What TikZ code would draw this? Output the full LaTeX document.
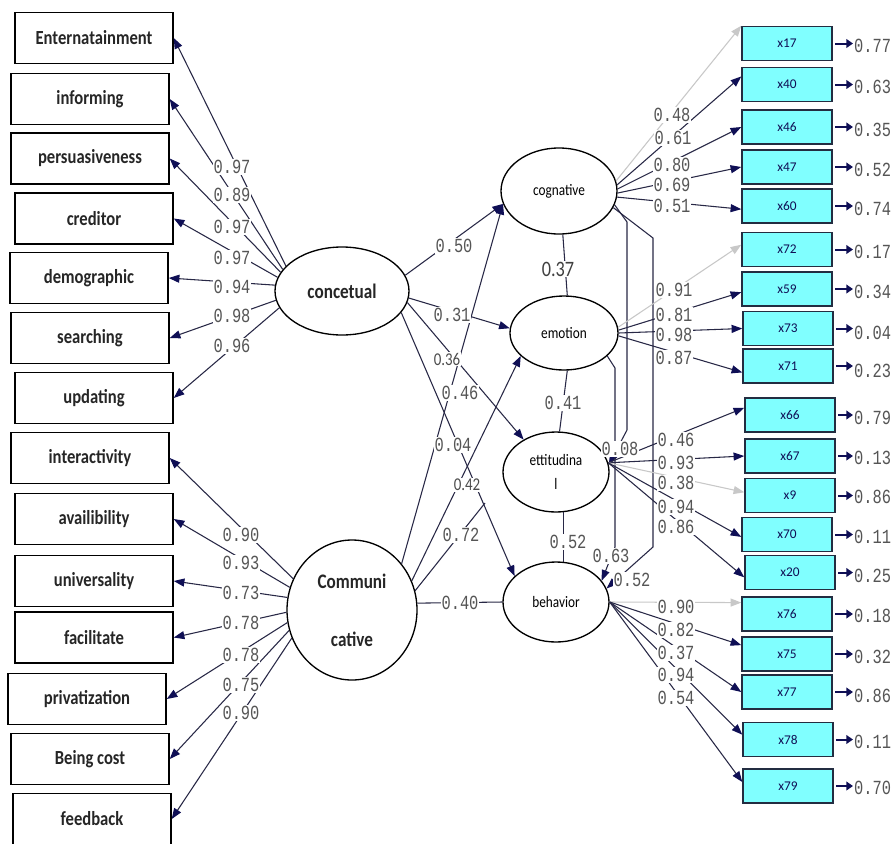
\documentclass[tikz,border=0pt]{standalone}
\usepackage{fontspec}
\setmainfont{Carlito}
\newfontfamily\sx[FakeStretch=0.83]{Carlito}
\newfontfamily\mx[FakeStretch=0.77]{Liberation Mono}
\usetikzlibrary{shapes.geometric,arrows.meta}
\definecolor{navy}{RGB}{15,15,85}
\definecolor{lnc}{RGB}{40,40,70}
\definecolor{labc}{RGB}{85,85,85}
\definecolor{cyanb}{RGB}{128,255,255}
\definecolor{boxb}{RGB}{35,45,65}
\definecolor{greyl}{RGB}{200,200,200}
\begin{document}
\begin{tikzpicture}[x=0.75pt,y=-0.75pt,
 lbox/.style={draw=black,line width=1.1pt,minimum width=118.5pt,minimum height=38.25pt,inner sep=0pt,font=\sx\bfseries\fontsize{15}{18}\selectfont,text=black!85},
 bigl/.style={ellipse,draw=black,line width=1pt,inner sep=0pt,align=center,font=\sx\bfseries\fontsize{15.5}{18.6}\selectfont,text=black!85},
 smll/.style={ellipse,draw=black,line width=1pt,inner sep=0pt,align=center,font=\sx\fontsize{12}{14.4}\selectfont},
 rbox/.style={draw=boxb,fill=cyanb,line width=1.1pt,minimum width=67.5pt,minimum height=25.5pt,inner sep=0pt,font=\fontsize{10}{12}\selectfont,text=navy},
 ln/.style={draw=lnc,line width=0.8pt},
 arr/.style={ln,-{Triangle[length=8pt,width=6pt,color=navy]}},
 garr/.style={draw=greyl,line width=0.8pt,-{Triangle[length=8pt,width=6pt,color=greyl]}},
 errarr/.style={draw=navy,line width=1.5pt,-{Triangle[length=5pt,width=6.5pt,color=navy]}},
 ml/.style={font=\mx\fontsize{15}{15}\selectfont,text=labc,fill=white,inner sep=0.6pt},
 el/.style={ml,anchor=west,fill=none},
 sl/.style={font=\sx\fontsize{13.5}{14}\selectfont,text=black!70,fill=white,inner sep=0.6pt},
 slb/.style={font=\sx\fontsize{16.5}{17}\selectfont,text=black!75,fill=white,inner sep=0.6pt},
]
\fill[white] (0,0) rectangle (892,843);
\useasboundingbox (0,0) rectangle (892,843);

% left observed
\node[lbox] (ent) at (94,38) {Enternatainment};
\node[lbox] (inf) at (90,99) {informing};
\node[lbox] (pers) at (90,158.5) {persuasiveness};
\node[lbox] (cred) at (94,218.5) {creditor};
\node[lbox] (demo) at (89,278) {demographic};
\node[lbox] (srch) at (90,338) {searching};
\node[lbox] (upd) at (94,398) {updating};
\node[lbox] (intr) at (90,458) {interactivity};
\node[lbox] (avl) at (94,519) {availibility};
\node[lbox] (univ) at (94,581) {universality};
\node[lbox] (fac) at (94,637.5) {facilitate};
\node[lbox] (priv) at (87,699) {privatization};
\node[lbox] (cost) at (90,759) {Being cost};
\node[lbox] (feed) at (92,819) {feedback};

% latent
\node[bigl,minimum width=100.5pt,minimum height=66pt] (conc) at (342,291) {concetual};
\node[bigl,minimum width=97.5pt,minimum height=105pt] (comm) at (352,610) {Communi\\[25pt]cative};
\node[smll,minimum width=87pt,minimum height=64.5pt] (cog) at (559,191) {cognative};
\node[smll,minimum width=81pt,minimum height=55.5pt] (emo) at (564,333) {emotion};
\node[smll,minimum width=79.5pt,minimum height=60pt] (att) at (556,472) {ettitudina\\[3pt]l};
\node[smll,minimum width=79.5pt,minimum height=60pt] (beh) at (556,602) {behavior};

% right observed
\node[rbox] (x17) at (787,43.5) {x17};
\node[rbox] (x40) at (787,84.5) {x40};
\node[rbox] (x46) at (787,127) {x46};
\node[rbox] (x47) at (787,167) {x47};
\node[rbox] (x60) at (787,206) {x60};
\node[rbox] (x72) at (787,249.5) {x72};
\node[rbox] (x59) at (787,289) {x59};
\node[rbox] (x73) at (788,328.5) {x73};
\node[rbox] (x71) at (788,366) {x71};
\node[rbox] (x66) at (790,415) {x66};
\node[rbox] (x67) at (790,456) {x67};
\node[rbox] (x9) at (790,495.5) {x9};
\node[rbox] (x70) at (787,534.5) {x70};
\node[rbox] (x20) at (790,572.5) {x20};
\node[rbox] (x76) at (787,614) {x76};
\node[rbox] (x75) at (787,654) {x75};
\node[rbox] (x77) at (787,692) {x77};
\node[rbox] (x78) at (788,739.5) {x78};
\node[rbox] (x79) at (788,786) {x79};

% error terms
\node[el] (e17) at (853,46) {0.77};
\node[el] (e40) at (853,87) {0.63};
\node[el] (e46) at (853,130) {0.35};
\node[el] (e47) at (853,170) {0.52};
\node[el] (e60) at (853,209) {0.74};
\node[el] (e72) at (853,252) {0.17};
\node[el] (e59) at (853,292) {0.34};
\node[el] (e73) at (853,333) {0.04};
\node[el] (e71) at (853,371) {0.23};
\node[el] (e66) at (853,418) {0.79};
\node[el] (e67) at (853,458) {0.13};
\node[el] (e9) at (853,497) {0.86};
\node[el] (e70) at (853,537) {0.11};
\node[el] (e20) at (853,576) {0.25};
\node[el] (e76) at (853,616) {0.18};
\node[el] (e75) at (853,657) {0.32};
\node[el] (e77) at (853,696) {0.86};
\node[el] (e78) at (853,742) {0.11};
\node[el] (e79) at (853,788) {0.70};
\foreach \b/\e in {x17/e17,x40/e40,x46/e46,x47/e47,x60/e60,x72/e72,x59/e59,x73/e73,x71/e71,x66/e66,x67/e67,x9/e9,x70/e70,x20/e20,x76/e76,x75/e75,x77/e77,x78/e78,x79/e79}
  \draw[errarr] ([xshift=2pt]\b.east) -- (\b.east -| \e.west);

% bend points
\coordinate (k72) at (485,503);
\coordinate (b1) at (627,222);
\coordinate (b2) at (627,430);
\coordinate (b3) at (615,368);
\coordinate (b4) at (615,547);
\coordinate (b5) at (653,238);
\coordinate (b6) at (653,547);

% left loadings
\draw[arr] (conc.156) -- (ent.east);
\draw[arr] (conc.160) -- (inf.east);
\draw[arr] (conc.163) -- (pers.east);
\draw[arr] (conc.168) -- (cred.east);
\draw[arr] (conc.175) -- (demo.east);
\draw[arr] (conc.188) -- (srch.east);
\draw[arr] (conc.195) -- (upd.east);
\draw[arr] (comm.152) -- (intr.east);
\draw[arr] (comm.160) -- (avl.east);
\draw[arr] (comm.169) -- (univ.east);
\draw[arr] (comm.182) -- (fac.east);
\draw[arr] (comm.191) -- (priv.east);
\draw[arr] (comm.198) -- (cost.east);
\draw[arr] (comm.205) -- (feed.east);

% structural
\draw[arr] (conc.14) -- (cog.193);
\draw[arr] (conc.-6) -- (emo.175);
\draw[arr] (conc.-10) -- (att.135);
\draw[arr] (conc.-20) -- (beh.148);
\draw[arr] (comm.43) -- (cog.193);
\draw[arr] (comm.26) -- (emo.208);
\draw[ln] (comm.17) -- (k72);
\draw[ln] (comm.6) -- (beh.180);
\draw[ln] (cog.-85) -- (emo.85);
\draw[ln] (emo.-85) -- (att.85);
\draw[ln] (att.-80) -- (beh.80);
\draw[arr] (cog.-14) -- (b1) -- (b2) -- (att.8);
\draw[arr] (emo.-28) -- (b3) -- (b4) -- (beh.25);
\draw[arr] (cog.-17) -- (b5) -- (b6) -- (beh.15);

% right loadings
\draw[garr] (cog.10) -- (x17.north west);
\draw[arr] (cog.6) -- (x40.170);
\draw[arr] (cog.2) -- (x46.west);
\draw[arr] (cog.-2) -- (x47.west);
\draw[arr] (cog.-6) -- (x60.184);
\draw[garr] (emo.6) -- (x72.174);
\draw[arr] (emo.3) -- (x59.184);
\draw[arr] (emo.0) -- (x73.west);
\draw[arr] (emo.-3) -- (x71.188);
\draw[arr] (att.10) -- (x66.171);
\draw[arr] (att.10) -- (x67.west);
\draw[garr] (att.10) -- (x9.176);
\draw[arr] (att.10) -- (x70.183);
\draw[arr] (att.10) -- (x20.186);
\draw[garr] (beh.0) -- (x76.166);
\draw[arr] (beh.0) -- (x75.169);
\draw[arr] (beh.0) -- (x77.west);
\draw[arr] (beh.0) -- (x78.174);
\draw[arr] (beh.0) -- (x79.175);

% labels left
\node[ml] (l1) at (232,167) {0.97};
\node[ml] (l2) at (232,195) {0.89};
\node[ml] (l3) at (232,227) {0.97};
\node[ml] (l4) at (232,258) {0.97};
\node[ml] (l5) at (232,287) {0.94};
\node[ml] (l6) at (232,316) {0.98};
\node[ml] (l7) at (232,346) {0.96};
\node[ml] (m1) at (241,535) {0.90};
\node[ml] (m2) at (241,563) {0.93};
\node[ml] (m3) at (241,593) {0.73};
\node[ml] (m4) at (241,623) {0.78};
\node[ml] (m5) at (241,655) {0.78};
\node[ml] (m6) at (241,685) {0.75};
\node[ml] (m7) at (241,713) {0.90};

% labels structural
\node[ml] (s1) at (454,246) {0.50};
\node[ml] (s2) at (452,315) {0.31};
\node[sl] (s3) at (447,359) {0.36};
\node[ml] (s4) at (460,393) {0.46};
\node[ml] (s5) at (453,445) {0.04};
\node[sl] (s6) at (467,485) {0.42};
\node[ml] (s7) at (461,535) {0.72};
\node[ml] (s8) at (460,603) {0.40};
\node[slb] (s9) at (558,269) {0.37};
\node[ml] (s10) at (563,403) {0.41};
\node[ml] (s11) at (568,542) {0.52};
\node[ml] (s12) at (620,449) {0.08};
\node[ml] (s13) at (611,556) {0.63};
\node[ml] (s14) at (632,580) {0.52};

% labels right
\node[ml] (r1) at (672,115) {0.48};
\node[ml] (r2) at (673,138) {0.61};
\node[ml] (r3) at (672,165) {0.80};
\node[ml] (r4) at (672,185) {0.69};
\node[ml] (r5) at (672,206) {0.51};
\node[ml] (r6) at (674,290) {0.91};
\node[ml] (r7) at (674,315) {0.81};
\node[ml] (r8) at (674,335) {0.98};
\node[ml] (r9) at (674,358) {0.87};
\node[ml] (r10) at (676,440) {0.46};
\node[ml] (r11) at (676,463) {0.93};
\node[ml] (r12) at (676,483) {0.38};
\node[ml] (r13) at (676,507) {0.94};
\node[ml] (r14) at (676,527) {0.86};
\node[ml] (r15) at (676,607) {0.90};
\node[ml] (r16) at (676,630) {0.82};
\node[ml] (r17) at (676,653) {0.37};
\node[ml] (r18) at (676,675) {0.94};
\node[ml] (r19) at (676,698) {0.54};
\end{tikzpicture}
\end{document}
